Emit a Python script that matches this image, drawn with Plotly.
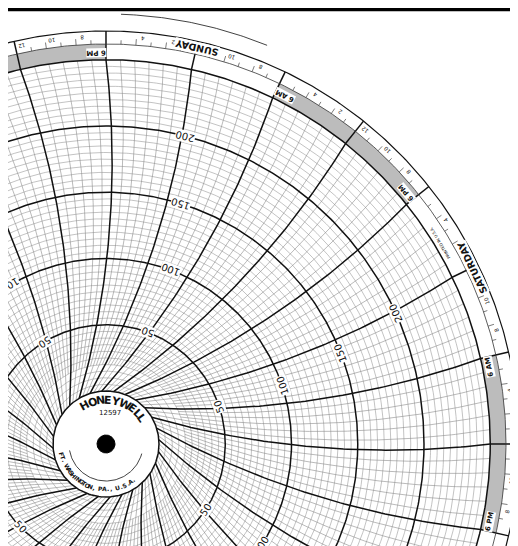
import numpy as np
import plotly.graph_objects as go

# chart data
scale_labels = [50, 100, 150, 200]
scale_max = 250
days = ["SUNDAY", "MONDAY", "TUESDAY", "WEDNESDAY", "THURSDAY", "FRIDAY", "SATURDAY"]
hour_labels = {0: "12", 2: "2", 4: "4", 8: "8", 10: "10", 12: "12",
               14: "2", 16: "4", 20: "8", 22: "10"}
label_offsets = [-7.5, -7.5, -4.5, -1.5]

R0, K = 53.0, 1.325          # radius of value 0 and px per unit
RG = R0 + K * scale_max      # grid edge
RB, RO = 400.0, 413.0        # band / ring edges
D, L = 900.0, 861.0          # pen arm geometry
DEG_H = 360.0 / 168


def rad(v):
    return R0 + K * v


def alpha(r):
    return np.degrees(np.arccos((D * D + r * r - L * L) / (2 * D * r)))


def edge_angle(h):
    return 51.43 + h * DEG_H


def xy(r, ang):
    a = np.radians(ang)
    return r * np.cos(a), r * np.sin(a)


def add_lines(fig, segs, color, width):
    xs, ys = [], []
    for x, y in segs:
        xs += list(x) + [None]
        ys += list(y) + [None]
    fig.add_trace(go.Scatter(x=xs, y=ys, mode="lines", hoverinfo="skip",
                             line=dict(color=color, width=width)))


fig = go.Figure()
full = np.linspace(0, 360, 721)

# gray night band
bx, by = [], []
for d in range(7):
    h0 = 24 * d - 6
    a = edge_angle(np.linspace(h0, h0 + 12, 60))
    x1, y1 = xy(RG, a)
    x2, y2 = xy(RB, a[::-1])
    bx += list(x1) + list(x2) + [None]
    by += list(y1) + list(y2) + [None]
fig.add_trace(go.Scatter(x=bx, y=by, fill="toself", fillcolor="#bcbcbc", mode="lines",
                         line=dict(width=0), hoverinfo="skip"))

# concentric circles
light = [xy(rad(v), full) for v in range(5, scale_max, 5) if v % 50]
bold = [xy(rad(v), full) for v in range(50, scale_max, 50)]
add_lines(fig, light, "#9a9a9a", 0.6)

# time lines
thin, heavy, ticks = [], [], []
for h in range(168):
    v0 = 0 if h % 2 == 0 else 20
    r = np.linspace(rad(v0), RG, 80)
    ang = edge_angle(h) + alpha(RG) - alpha(r)
    seg = xy(r, ang)
    if h % 6 == 0:
        heavy.append(seg)
        heavy.append(xy(np.array([RG, RO]), np.array([edge_angle(h)] * 2)))
    else:
        thin.append(seg)
        tl = RB + (6 if h % 2 == 0 else 4)
        ticks.append(xy(np.array([RB, tl]), np.array([edge_angle(h)] * 2)))
add_lines(fig, thin, "#8c8c8c", 0.6)
add_lines(fig, ticks, "#222", 0.6)
add_lines(fig, bold, "#111", 1.5)
add_lines(fig, heavy, "#111", 1.5)

# rings
add_lines(fig, [xy(RG, full)], "#111", 1.5)
add_lines(fig, [xy(RB, full)], "#333", 0.8)
add_lines(fig, [xy(RO, full)], "#111", 1.2)
add_lines(fig, [xy(430, np.linspace(68, 88, 60))], "#111", 0.8)
add_lines(fig, [xy(424, np.linspace(-12, -4, 30))], "#111", 0.8)

# hub
hub = np.linspace(0, 360, 200)
hx, hy = xy(R0, hub)
fig.add_trace(go.Scatter(x=hx, y=hy, fill="toself", fillcolor="white", mode="lines",
                         line=dict(color="#111", width=1.5), hoverinfo="skip"))
dx, dy = xy(9, hub)
fig.add_trace(go.Scatter(x=dx, y=dy, fill="toself", fillcolor="black", mode="lines",
                         line=dict(color="black", width=1), hoverinfo="skip"))
add_lines(fig, [xy(37, np.linspace(190, 345, 80))], "#111", 0.8)

ann = []


def text(x, y, s, size, angle=0, bold=False, bg=None):
    ann.append(dict(x=x, y=y, text=("<b>%s</b>" % s) if bold else s, showarrow=False,
                    textangle=angle, font=dict(size=size, color="#111", family="DejaVu Sans"),
                    bgcolor=bg, borderpad=0))


def along(r, ang, s, size, bold=False, bg=None):
    x, y = xy(r, ang)
    text(x, y, s, size, -(ang + 90), bold, bg)


for d, name in enumerate(days):
    noon = 24 * d + 12
    along((RB + RO) / 2, edge_angle(noon), name, 9.5, True, "white")
    for v, off in zip(scale_labels, label_offsets):
        along(rad(v), edge_angle(noon) + off, str(v), 10, False, "white")
    for hh, s in hour_labels.items():
        if hh == 12:
            continue
        along(RB + 7, edge_angle(24 * d + hh) - 0.9, s, 5.5)
    along(RG + 7, edge_angle(24 * d + 6) - 1.4, "6 AM", 7, True, "white")
    along(RG + 7, edge_angle(24 * d + 18) + 1.4, "6 PM", 7, True, "white")
along(RB - 10, edge_angle(-9.5), "PRINTED IN U.S.A.", 4)

a = 124
for ch in "HONEYWELL":
    w = 13 if ch == "W" else (8 if ch == "L" else 10.5)
    a -= w / 2
    x, y = xy(44, a)
    text(x, y, ch, 11, 90 - a, True)
    a -= w / 2
text(4, 31, "12597", 7)
for i, ch in enumerate("FT. WASHINGTON, PA., U.S.A."):
    a = 193 + i * 4.4
    x, y = xy(45, a)
    text(x, y, ch, 6, -(a + 90), True)

fig.update_layout(
    width=518, height=546, margin=dict(l=0, r=0, t=0, b=0),
    paper_bgcolor="white", plot_bgcolor="white", showlegend=False,
    xaxis=dict(range=[-98, 420], visible=False, fixedrange=True),
    yaxis=dict(range=[-110, 436], visible=False, fixedrange=True),
    annotations=ann,
    shapes=[dict(type="rect", xref="paper", yref="paper", x0=0, x1=1, y0=0.994, y1=1,
                 fillcolor="black", line=dict(width=0))],
)
fig.write_html("out.html")
